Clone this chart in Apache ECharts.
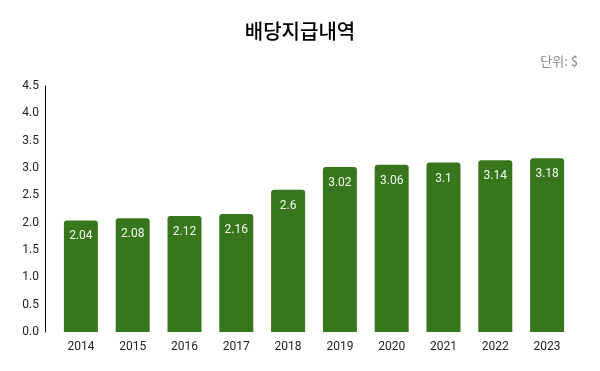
<!DOCTYPE html>
<html><head><meta charset="utf-8">
<script src="https://cdn.jsdelivr.net/npm/echarts@6/dist/echarts.min.js"></script>
<style>html,body{margin:0;padding:0;background:#fff}#c{width:600px;height:371px}</style>
</head><body><div id="c"></div>
<script>
const categories = ['2014','2015','2016','2017','2018','2019','2020','2021','2022','2023'];
const dividends = [2.04, 2.08, 2.12, 2.16, 2.6, 3.02, 3.06, 3.1, 3.14, 3.18];
const yTicks = [0, 0.5, 1.0, 1.5, 2.0, 2.5, 3.0, 3.5, 4.0, 4.5];
const chart = echarts.init(document.getElementById('c'));
chart.setOption({
  animation: false,
  title: [
    {text: '배당지급내역', left: 'center', top: 16, textStyle: {fontFamily: 'Noto Sans CJK KR', fontSize: 20, fontWeight: 500, color: '#000'}},
    {text: '단위: $', right: 17, top: 50, textStyle: {fontFamily: 'Noto Sans CJK KR', fontSize: 13, fontWeight: 'normal', color: '#8a8a8a'}}
  ],
  grid: {left: 55, right: 27, top: 86, bottom: 39},
  xAxis: {
    type: 'category', data: categories,
    axisLine: {show: false}, axisTick: {show: false},
    axisLabel: {color: '#222', fontFamily: 'Roboto', fontSize: 12, margin: 9}
  },
  yAxis: {
    type: 'value', min: 0, max: yTicks[yTicks.length-1], interval: 0.5, offset: 10,
    axisLine: {show: true, lineStyle: {color: '#000', width: 1}},
    axisTick: {show: false}, splitLine: {show: false},
    axisLabel: {color: '#222', fontFamily: 'Roboto', fontSize: 12, margin: 6,
      formatter: v => v.toFixed(1)}
  },
  series: [{
    type: 'bar', data: dividends, barWidth: 34,
    itemStyle: {color: '#38761d', borderRadius: [3,3,0,0]},
    label: {show: true, position: 'insideTop', distance: 10, color: '#f0fff0', fontFamily: 'Roboto', fontSize: 12,
      formatter: p => String(p.value)}
  }]
});
</script></body></html>
